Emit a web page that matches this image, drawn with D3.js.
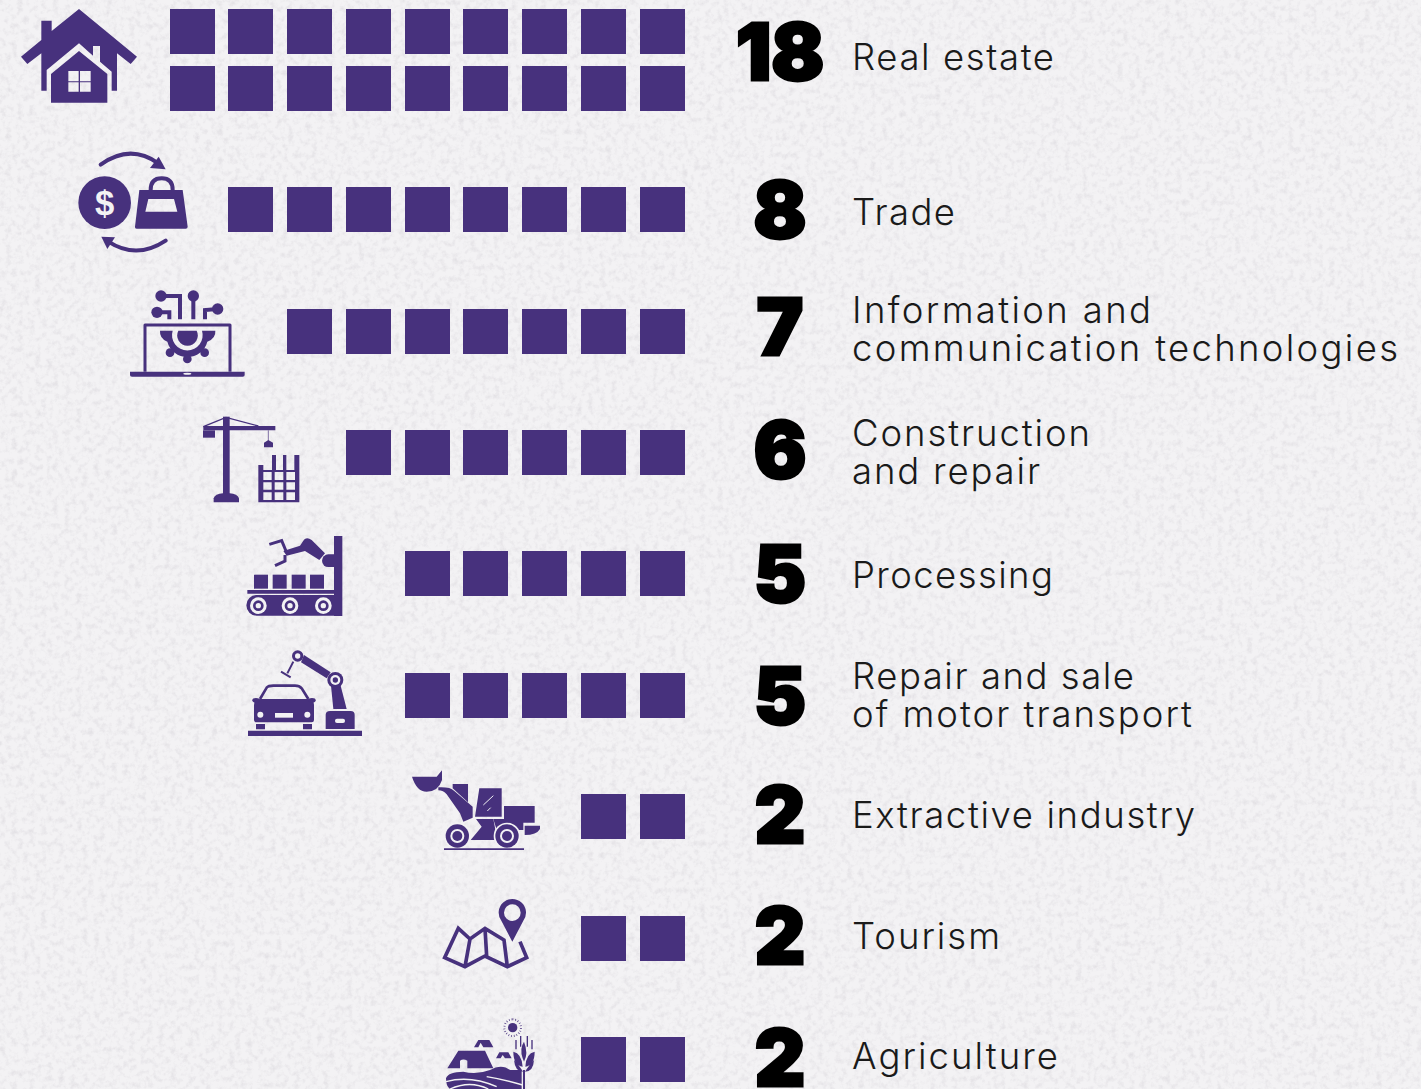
<!DOCTYPE html>
<html>
<head>
<meta charset="utf-8">
<script src="https://cdn.jsdelivr.net/npm/d3@7"></script>
<style>
  html, body { margin: 0; padding: 0; background: #f3f2f4; }
  svg { display: block; }
  .label { font-family: Inter, "Open Sans", sans-serif; font-weight: 300; font-size: 36.5px; fill: #1a1a1a; letter-spacing: 2px; }
  .num { font-family: Inter, "Liberation Sans", sans-serif; font-weight: 900; font-size: 78px; fill: #000; stroke: #000; stroke-width: 3px; text-anchor: middle; }
</style>
</head>
<body>
<div id="chart"></div>
<script>
const w = 1421
const h = 1089
const purple = "#47317d"
const paper = "#f3f2f4"

// the data, top to bottom
const categories = ["Real estate", "Trade", "Information and communication technologies", "Construction and repair", "Processing", "Repair and sale of motor transport", "Extractive industry", "Tourism", "Agriculture"]
const values = [18, 8, 7, 6, 5, 5, 2, 2, 2]
const labelLines = [["Real estate"], ["Trade"], ["Information and", "communication technologies"], ["Construction", "and repair"], ["Processing"], ["Repair and sale", "of motor transport"], ["Extractive industry"], ["Tourism"], ["Agriculture"]]
const perRow = 9

const svg = d3.select("#chart")
  .append("svg")
  .attr("width", w)
  .attr("height", h)

// paper grain
const defs = svg.append("defs")
const grain = defs.append("filter").attr("id", "grain").attr("x", 0).attr("y", 0).attr("width", "100%").attr("height", "100%")
grain.append("feTurbulence").attr("type", "fractalNoise").attr("baseFrequency", 0.17).attr("numOctaves", 4).attr("seed", 4)
grain.append("feColorMatrix").attr("type", "matrix")
  .attr("values", "0 0 0 0 0.66  0 0 0 0 0.64  0 0 0 0 0.68  2.2 0 0 0 -0.98")
svg.append("rect").attr("width", w).attr("height", h).attr("fill", paper)
svg.append("rect").attr("width", w).attr("height", h).attr("filter", "url(#grain)").attr("opacity", 0.5)

// scales: x is the unit slot counted from the right, y is the row
const size = 45
const xScale = d3.scaleLinear().domain([0, perRow - 1]).range([639.7, 169.7])
const yScale = d3.scaleLinear().domain([0, categories.length - 1]).range([65.6, 1037.2])
const stack = 57

const units = []
values.forEach((v, row) => {
  d3.range(v).forEach(k => units.push({ row, slot: k % perRow, layer: Math.floor(k / perRow) }))
})

svg.selectAll("rect.unit")
  .data(units)
  .enter()
  .append("rect")
  .attr("class", "unit")
  .attr("x", d => Math.round(xScale(d.slot)))
  .attr("y", d => Math.round(yScale(d.row)) - d.layer * stack)
  .attr("width", size)
  .attr("height", size)
  .attr("fill", purple)

// the first row is two layers tall so its texts sit higher
const rowMid = i => yScale(i) + size / 2 - (i === 0 ? 36 : 0)
// small per row corrections, the reference is not quite regular
const numNudge = [0, 0, -4, -2, 0, 1, -2, -2, -2]
const labelNudge = [4.5, 2, -2.5, 0, 1, 0, -2, -2, -4]
// the stand-in font is narrower than the original, so each line is fitted
const lineWidths = [[204], [105], [301, 548], [240, 190], [203], [284, 342], [345], [150], [208]]

svg.selectAll("text.num")
  .data(values)
  .enter()
  .append("text")
  .attr("class", "num")
  .attr("x", 780)
  .attr("y", (d, i) => rowMid(i) + 28 + numNudge[i])
  .text(d => d)

const lineGap = 38
const labels = svg.selectAll("text.label")
  .data(labelLines)
  .enter()
  .append("text")
  .attr("class", "label")
  .attr("y", (d, i) => rowMid(i) + 13 + labelNudge[i] - (d.length - 1) / 2 * lineGap)
labels.selectAll("tspan")
  .data((d, i) => d.map((t, j) => ({ t, j, i })))
  .enter()
  .append("tspan")
  .attr("x", 852)
  .attr("dy", d => d.j * lineGap)
  .attr("textLength", d => lineWidths[d.i][d.j])
  .attr("lengthAdjust", "spacing")
  .text(d => d.t)

// icons, drawn in 3x units
function icon(x, y) {
  return svg.append("g")
    .attr("transform", `translate(${x},${y}) scale(${1 / 3})`)
    .attr("fill", purple)
}
const add = (g, d, extra) => {
  const p = g.append("path").attr("d", d)
  if (extra) Object.entries(extra).forEach(([k, v]) => p.attr(k, v))
  return p
}
const line = { fill: "none", stroke: purple }
const circ = (g, cx, cy, r, fill) => g.append("circle").attr("cx", cx).attr("cy", cy).attr("r", r).attr("fill", fill || purple)

// house
const house = icon(0, 0)
add(house, "M237 27L411 170L392 192L351 160V272H335V215L300 185V138H279V167L237 130L140 210V272H124V160L82 192L63 170L124 120V62H155V93Z")
add(house, "M237 153L322 222V308H153V222ZM205 213V244H236V213ZM240 213V244H272V213ZM205 247V275H236V247ZM240 247V275H272V247Z", { "fill-rule": "evenodd" })

// trade
const trade = icon(0, 0)
circ(trade, 314, 608, 79)
trade.append("text").attr("x", 314).attr("y", 644).attr("text-anchor", "middle")
  .attr("font-family", "Liberation Sans").attr("font-weight", 700).attr("font-size", 104).attr("fill", paper).text("$")
add(trade, "M418 570H548L563 680Q563 686 557 686H410Q404 686 405 680ZM445 597L436 635H532L522 597Z", { "fill-rule": "evenodd" })
add(trade, "M452 570Q452 535 485 535Q518 535 518 570", { ...line, "stroke-width": 12 })
add(trade, "M302 494Q390 430 475 490", { ...line, "stroke-width": 12, "stroke-linecap": "round" })
add(trade, "M497 508L476 470L450 504Z")
add(trade, "M497 722Q410 780 325 725", { ...line, "stroke-width": 12, "stroke-linecap": "round" })
add(trade, "M304 710L345 712L322 747Z")

// laptop and gear
const it = icon(120, 280)
add(it, "M75 275V135H330V275", { ...line, "stroke-width": 9, "stroke-linejoin": "round" })
add(it, "M30 275H374V285Q374 290 368 290H36Q30 290 30 285Z")
it.append("ellipse").attr("cx", 202).attr("cy", 281).attr("rx", 12).attr("ry", 3).attr("fill", paper)
add(it, "M120 152H158A46 46 0 1 0 246 152H286Q288 175 262 185A62 62 0 0 1 142 185Q118 175 120 152Z")
add(it, "M175 152H230A31 31 0 1 1 175 152Z")
;[[150, 218], [202, 237], [254, 218]].forEach(c => circ(it, c[0], c[1], 13))
add(it, "M180 118V48H125M148 118V97H112M220 118V48M255 118V90L293 87", { ...line, "stroke-width": 12 })
;[[123, 48], [111, 97], [220, 48], [293, 87]].forEach(c => circ(it, c[0], c[1], 17))

// crane and building
const crane = icon(120, 280)
add(crane, "M309 410H329V645H309Z")
add(crane, "M250 438H466V451H250Z")
add(crane, "M249 451H285V473H249Z")
add(crane, "M250 440L318 412L415 438", { ...line, "stroke-width": 4 })
add(crane, "M445 451V482", { ...line, "stroke-width": 2 })
add(crane, "M432 488L445 480L459 488V502H432Z")
add(crane, "M281 667V655Q285 642 309 640H329Q352 642 357 655V667Z")
add(crane, "M415 667V555H430V570H456V525H468V570H489V525H499V570H523V525H538V667ZM430 576V600H455V576ZM464 576V600H490V576ZM499 576V600H525V576ZM430 607V629H455V607ZM464 607V629H490V607ZM499 607V629H525V607ZM430 637V660H455V637ZM464 637V660H490V637ZM499 637V660H525V637Z", { "fill-rule": "evenodd" })

// conveyor
const conv = icon(230, 525)
add(conv, "M312 33H337V273H312Z")
add(conv, "M80 210H312V272H80A31 31 0 0 1 80 210Z")
add(conv, "M52 195H312V206H52Z")
;[72, 128, 185, 240].forEach(x => add(conv, `M${x} 149h42v42h-42Z`))
;[85, 180, 280].forEach(x => { circ(conv, x, 242, 25, paper); circ(conv, x, 242, 16); circ(conv, x, 242, 8, paper) })
add(conv, "M312 88H295A19 19 0 0 0 295 126H312Z")
add(conv, "M218 50Q228 32 245 45L285 85L268 105L225 78L170 92L160 78L210 62Z")
add(conv, "M118 58L155 47L168 78M165 90L165 108L135 122", { ...line, "stroke-width": 9 })

// car and robot arm
const car = icon(230, 525)
add(car, "M54 617H396V633H54Z")
add(car, "M90 522L110 488Q115 482 130 482H195Q208 482 215 490L235 522", { ...line, "stroke-width": 8 })
add(car, "M72 585V540Q72 522 90 522H235Q252 522 252 540V585Q252 592 245 592H80Q72 592 72 585Z")
car.append("ellipse").attr("cx", 78).attr("cy", 526).attr("rx", 11).attr("ry", 7)
car.append("ellipse").attr("cx", 246).attr("cy", 526).attr("rx", 11).attr("ry", 7)
add(car, "M78 597h27v16h-27ZM219 597h27v16h-27Z")
circ(car, 91, 569, 9, paper)
circ(car, 232, 569, 9, paper)
car.append("rect").attr("x", 135).attr("y", 564).attr("width", 54).attr("height", 14).attr("fill", paper)
add(car, "M287 612V570Q287 558 300 558H362Q374 558 374 570V612Z")
car.append("rect").attr("x", 315).attr("y", 581).attr("width", 30).attr("height", 13).attr("rx", 6).attr("fill", paper)
add(car, "M303 482L332 482L350 552H310Z")
add(car, "M222 390L302 442L290 460L213 412Z")
circ(car, 316, 465, 24)
circ(car, 316, 465, 15, paper)
circ(car, 316, 465, 8)
circ(car, 203, 393, 17)
circ(car, 203, 393, 8, paper)
add(car, "M190 410L172 445M153 440L182 457", { ...line, "stroke-width": 6 })

// loader
const loader = icon(230, 525)
add(loader, "M546 755H620L636 736V765Q625 800 590 800Q560 800 546 755Z")
add(loader, "M668 777H714V832L668 790Z")
add(loader, "M625 787Q660 785 672 797L728 845V878L700 890L690 865L650 808Q640 796 625 796Z")
add(loader, "M748 790H815V875H735Z")
add(loader, "M760 840L790 812M772 858L782 848", { ...line, stroke: paper, "stroke-width": 3 })
add(loader, "M822 843H914V893H880V915H800L790 882H822Z")
add(loader, "M738 882H790L802 945H722L755 905Z")
add(loader, "M884 902H930V912Q920 930 884 930Z")
;[682, 831].forEach(x => { circ(loader, x, 933, 40, paper); circ(loader, x, 933, 35); circ(loader, x, 933, 21, paper); circ(loader, x, 933, 15) })
add(loader, "M642 970H882V975H642Z")

// map
const map = icon(430, 890)
add(map, "M270 155L290 203L232 230L165 198L105 230L44 203L85 115L120 147L165 115L222 150L232 230M120 147L105 230M165 115L170 198", { ...line, "stroke-width": 11 })
add(map, "M247 155L214 92A41 41 0 1 1 280 92ZM247 43A25 25 0 1 0 247 93A25 25 0 1 0 247 43Z", { "fill-rule": "evenodd" })

// farm
const farm = icon(430, 890)
circ(farm, 248, 413, 14)
add(farm, "M248 388A25 25 0 1 1 247.9 388Z", { ...line, "stroke-width": 6, "stroke-dasharray": "2 6" })
add(farm, "M52 535L85 482H165L190 535H112V512Q100 505 90 512V535Z")
add(farm, "M132 472L145 450H178L190 472H160L152 458L145 472Z")
add(farm, "M198 505L208 487H235L245 505H225L218 495L212 505Z")
add(farm, "M48 565Q55 545 100 545Q140 555 180 540Q215 520 240 540L275 540V597H60Q48 590 48 565Z")
add(farm, "M48 575Q120 555 200 590M60 597Q120 570 175 597M170 560Q230 570 278 585", { ...line, stroke: paper, "stroke-width": 4 })
add(farm, "M279 540H285V597H279Z")
add(farm, "M282 455Q268 475 278 505Q282 515 282 515Q296 490 282 455ZM250 485Q275 490 278 530Q250 525 250 485ZM314 485Q288 490 286 530Q314 525 314 485ZM252 510Q270 530 279 545Q255 545 252 510ZM312 510Q294 530 285 545Q310 545 312 510Z")
add(farm, "M258 450V478M272 438V470M292 438V470M306 450V478", { ...line, "stroke-width": 4 })
</script>
</body>
</html>
